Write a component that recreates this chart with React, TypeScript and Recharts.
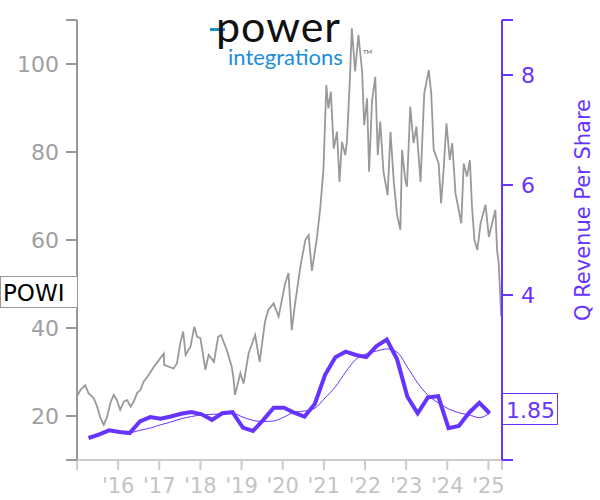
import React from 'react';
import {
  ComposedChart,
  Line,
  XAxis,
  YAxis,
} from 'recharts';

// POWI share price (year fraction / price)
const priceDates = [
  2015.0, 2015.08, 2015.2, 2015.28, 2015.41, 2015.49, 2015.57, 2015.65, 2015.73, 2015.81,
  2015.89, 2015.97, 2016.05, 2016.14, 2016.22, 2016.3, 2016.38, 2016.46, 2016.54, 2016.62,
  2016.74, 2016.87, 2016.99, 2017.11, 2017.12, 2017.23, 2017.35, 2017.43, 2017.51, 2017.58,
  2017.64, 2017.76, 2017.85, 2017.92, 2018.0, 2018.12, 2018.2, 2018.33, 2018.43, 2018.5,
  2018.64, 2018.76, 2018.8, 2018.84, 2018.97, 2019.05, 2019.17, 2019.33, 2019.44, 2019.57,
  2019.65, 2019.78, 2019.9, 2020.06, 2020.14, 2020.22, 2020.3, 2020.43, 2020.55, 2020.63,
  2020.71, 2020.83, 2020.91, 2020.99, 2021.06, 2021.11, 2021.17, 2021.24, 2021.32, 2021.38,
  2021.44, 2021.52, 2021.56, 2021.63, 2021.68, 2021.76, 2021.84, 2021.93, 2021.98, 2022.05,
  2022.1, 2022.17, 2022.25, 2022.31, 2022.37, 2022.45, 2022.55, 2022.62, 2022.7, 2022.78,
  2022.86, 2022.9, 2022.98, 2023.02, 2023.1, 2023.18, 2023.25, 2023.35, 2023.44, 2023.55,
  2023.61, 2023.67, 2023.79, 2023.85, 2023.91, 2023.98, 2024.06, 2024.12, 2024.2, 2024.34,
  2024.4, 2024.48, 2024.55, 2024.6, 2024.66, 2024.73, 2024.81, 2024.93, 2025.01, 2025.09,
  2025.17, 2025.21, 2025.25, 2025.31, 2025.33,
];
const priceValues = [
  24.4, 25.9, 27.0, 25.2, 24.0, 22.1, 19.5, 18.0, 19.8, 22.9,
  24.8, 23.6, 21.4, 23.3, 23.6, 22.1, 23.3, 25.2, 25.9, 27.8,
  29.3, 31.2, 32.7, 34.2, 31.6, 31.2, 30.8, 32.0, 36.5, 39.2,
  33.9, 35.8, 40.3, 38.0, 37.7, 30.5, 33.9, 32.3, 38.0, 38.4,
  35.0, 31.2, 28.9, 24.8, 29.7, 27.4, 34.2, 38.4, 32.3, 41.5,
  44.1, 45.6, 42.6, 50.2, 52.5, 39.5, 45.5, 54.0, 60.0, 61.1,
  53.0, 60.4, 67.0, 76.0, 95.2, 89.9, 93.7, 80.8, 84.6, 73.2,
  82.3, 79.3, 82.3, 96.0, 108.1, 98.3, 106.6, 98.3, 86.1, 92.2,
  75.5, 91.5, 97.1, 79.3, 86.9, 75.5, 70.2, 84.6, 73.2, 65.7,
  62.3, 80.5, 73.6, 72.1, 90.3, 82.0, 85.8, 73.2, 93.3, 98.6,
  93.3, 80.5, 77.4, 68.3, 75.9, 86.5, 78.2, 82.0, 70.6, 63.8,
  77.4, 74.4, 78.2, 67.6, 60.0, 57.7, 63.8, 68.0, 60.7, 63.8,
  66.8, 57.7, 54.7, 42.6, 47.1,
];

// quarterly revenue per share, 2015 Q1 .. 2024 Q4
const firstYear = 2015;
const quarterLabels: string[] = [];
for (let i = 0; i < 40; i++) {
  quarterLabels.push(`${firstYear + Math.floor(i / 4)} Q${(i % 4) + 1}`);
}
const revenuePerShare = [
  1.4, 1.46, 1.54, 1.51, 1.49, 1.7, 1.78, 1.75, 1.79, 1.84,
  1.87, 1.83, 1.73, 1.85, 1.87, 1.59, 1.53, 1.73, 1.95, 1.95,
  1.86, 1.79, 2.02, 2.55, 2.87, 2.97, 2.91, 2.87, 3.07, 3.19,
  2.83, 2.15, 1.85, 2.14, 2.16, 1.58, 1.62, 1.86, 2.04, 1.85,
];
const revenueSmoothed = [
  null, null, null, null, 1.49, 1.54, 1.58, 1.64, 1.69, 1.75,
  1.79, 1.82, 1.83, 1.84, 1.85, 1.78, 1.72, 1.7, 1.71, 1.78,
  1.87, 1.89, 1.94, 2.13, 2.33, 2.6, 2.83, 2.93, 2.98, 3.02,
  2.96, 2.69, 2.4, 2.18, 2.04, 1.93, 1.86, 1.82, 1.77, 1.85,
];

const yearTicks = [2015, 2016, 2017, 2018, 2019, 2020, 2021, 2022, 2023, 2024, 2025, 2025.33];
const priceTicks = [10, 20, 40, 60, 80, 100, 110];
const revenueTicks = [1, 4, 6, 8, 9];

const PURPLE = '#6633ff';
const FONT = 'DejaVu Sans';

const priceData = priceDates.map((t, i) => ({ t, price: priceValues[i] }));
// reported about a month after quarter end
const revenueData = quarterLabels.map((q, i) => {
  const year = Number(q.slice(0, 4));
  const quarter = Number(q.slice(6));
  return {
    t: year + quarter * 0.25 + 0.03,
    rev: revenuePerShare[i],
    avg: revenueSmoothed[i],
  };
});

export default function App() {
  return (
    <div
      style={{
        position: 'absolute',
        left: 0,
        top: 0,
        width: 600,
        height: 500,
        background: '#fff',
        fontFamily: FONT,
      }}
    >
      <ComposedChart
        width={600}
        height={500}
        margin={{ top: 20, right: 0, left: 0, bottom: 0 }}
      >
        <XAxis
          dataKey="t"
          type="number"
          domain={[2015, 2025.33]}
          ticks={yearTicks}
          interval={0}
          allowDataOverflow
          height={40}
          stroke="#cccccc"
          strokeWidth={2}
          tickSize={10}
          tickMargin={8}
          tick={{ fill: '#c4c4c4', fontSize: 21, fontFamily: FONT }}
          tickFormatter={(v) =>
            Number.isInteger(v) && v > 2015 ? `'${String(v).slice(2)}` : ''
          }
        />
        <YAxis
          yAxisId="left"
          domain={[10, 110]}
          ticks={priceTicks}
          interval={0}
          allowDataOverflow
          width={77}
          stroke="#999999"
          strokeWidth={2}
          tickSize={11}
          tickMargin={7}
          tick={{ fill: '#a0a0a0', fontSize: 22, fontFamily: FONT }}
          tickFormatter={(v) => (v === 10 || v === 110 ? '' : String(v))}
        />
        <YAxis
          yAxisId="right"
          orientation="right"
          domain={[1, 9]}
          ticks={revenueTicks}
          interval={0}
          allowDataOverflow
          width={98}
          stroke={PURPLE}
          strokeWidth={2}
          tickSize={11}
          tickMargin={8}
          tick={{ fill: PURPLE, fontSize: 22, fontFamily: FONT }}
          tickFormatter={(v) => (v === 1 || v === 9 ? '' : String(v))}
        />
        <Line
          yAxisId="left"
          data={priceData}
          dataKey="price"
          type="linear"
          stroke="#999999"
          strokeWidth={1.8}
          dot={false}
          isAnimationActive={false}
        />
        <Line
          yAxisId="right"
          data={revenueData}
          dataKey="avg"
          type="monotone"
          stroke={PURPLE}
          strokeWidth={1}
          dot={false}
          connectNulls
          isAnimationActive={false}
        />
        <Line
          yAxisId="right"
          data={revenueData}
          dataKey="rev"
          type="linear"
          stroke={PURPLE}
          strokeWidth={4}
          dot={false}
          isAnimationActive={false}
        />
      </ComposedChart>

      <svg
        width={600}
        height={500}
        style={{ position: 'absolute', left: 0, top: 0, pointerEvents: 'none' }}
      >
        {/* logo */}
        <rect x={210} y={28} width={15} height={3} fill="#1a8fd6" />
        <text x={216} y={42} fontFamily="Lato" fontSize={43} letterSpacing={1} fill="#111">
          power
        </text>
        <text x={228} y={65} fontFamily="Lato" fontSize={22} fill="#1a8fd6">
          integrations
        </text>
        <text x={363} y={54} fontFamily="Lato" fontSize={6} fill="#555">
          TM
        </text>

        <text
          x={590}
          y={210}
          transform="rotate(-90, 590, 210)"
          textAnchor="middle"
          fontFamily={FONT}
          fontSize={21}
          fill={PURPLE}
        >
          Q Revenue Per Share
        </text>

        {/* last price tag */}
        <rect x={0.5} y={276.5} width={77} height={31} fill="#fff" stroke="#999" />
        <text x={3} y={301} fontFamily={FONT} fontSize={23} fill="#000">
          POWI
        </text>

        {/* last revenue tag */}
        <rect x={502.5} y={393.5} width={55} height={31} fill="#fff" stroke={PURPLE} />
        <text x={506} y={418} fontFamily={FONT} fontSize={22} fill={PURPLE}>
          1.85
        </text>
      </svg>
    </div>
  );
}
